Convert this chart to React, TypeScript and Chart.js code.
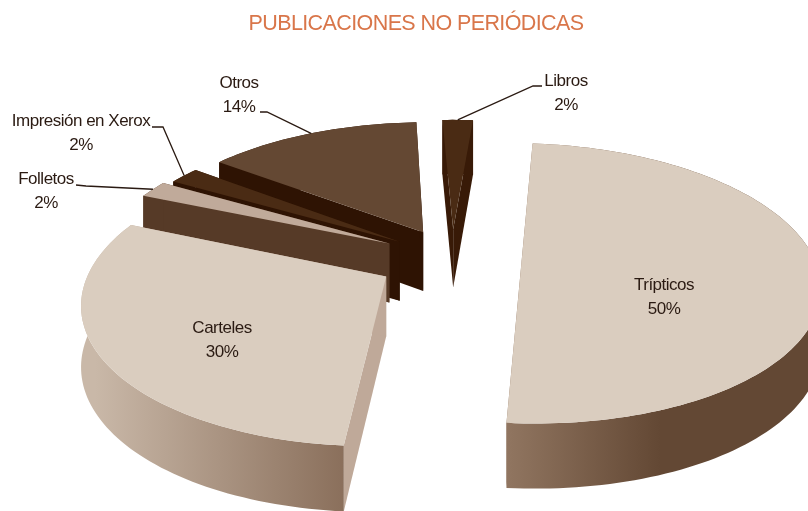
import React, { useEffect, useRef } from "react";
import { Chart, registerables } from "chart.js";

Chart.register(...registerables);

const categories = ["Libros", "Trípticos", "Carteles", "Folletos", "Impresión en Xerox", "Otros"];
const values = [2, 50, 30, 2, 2, 14];
const topColors = ["#4a2b14", "#dacdbf", "#dacdbf", "#c0aa9a", "#4a2b14", "#644833"];
const wallColors = ["#381a07", "#8f735e", "#bfa999", "#563a27", "#2e1303", "#2e1303"];
const rimStops = [
  ["#381a07", "#381a07"],
  ["#917661", "#634834"],
  ["#c9b8a8", "#8a6f5b"],
  ["#563a27", "#563a27"],
  ["#2e1303", "#2e1303"],
  ["#2e1303", "#2e1303"],
];
const rimRanges = [[450, 480], [505, 660], [95, 345], [140, 180], [170, 200], [225, 420]];
const labelPos = [[566, 81], [664, 285], [222, 328], [46, 179], [81, 121], [239, 83]];
const leaderStart = [[542, 86], null, null, [76, 185], [152, 127], [260, 112]];
const leaderBend = [[533, 86], null, null, [86, 186], [163, 127], [267, 112]];

const view = { cx: 452, B: 1800, hy: -577, A: 5140, Z0: 6.157, wall: 66 };

const pie3d = {
  id: "pie3d",
  beforeDraw(chart: any) {
    chart.ctx.letterSpacing = "-0.6px";
  },
  beforeDatasetsDraw(chart: any) {
    const { ctx } = chart;
    const arcs = chart.getDatasetMeta(0).data as any[];
    const project = (X: number, Z: number, down: boolean) => {
      const drop = down ? view.wall * Math.sqrt(5 / Z) : 0;
      return [view.cx + (view.B * X) / Z, view.hy + view.A / Z + drop];
    };
    const slices = arcs.map((arc, i) => {
      const a0 = arc.startAngle + Math.PI / 2;
      const a1 = arc.endAngle + Math.PI / 2;
      const mid = (a0 + a1) / 2;
      const e = arc.options.offset / arc.outerRadius;
      const ox = e * Math.sin(mid);
      const oz = view.Z0 + e * Math.cos(mid);
      return { i, a0, a1, mid, ox, oz };
    });
    const order = [...slices].sort((p, q) => Math.cos(q.mid) - Math.cos(p.mid));
    const poly = (pts: number[][], fill: any) => {
      ctx.beginPath();
      pts.forEach((p, k) => (k ? ctx.lineTo(p[0], p[1]) : ctx.moveTo(p[0], p[1])));
      ctx.closePath();
      ctx.fillStyle = fill;
      ctx.fill();
    };
    for (const s of order) {
      const rim: [number, number][] = [];
      const steps = Math.max(6, Math.ceil((s.a1 - s.a0) * 40));
      for (let k = 0; k <= steps; k++) {
        const a = s.a0 + ((s.a1 - s.a0) * k) / steps;
        rim.push([s.ox + Math.sin(a), s.oz + Math.cos(a)]);
      }
      const top = rim.map((p) => project(p[0], p[1], false));
      const bot = rim.map((p) => project(p[0], p[1], true));
      const apexT = project(s.ox, s.oz, false);
      const apexB = project(s.ox, s.oz, true);
      const grad = ctx.createLinearGradient(rimRanges[s.i][0], 0, rimRanges[s.i][1], 0);
      grad.addColorStop(0, rimStops[s.i][0]);
      grad.addColorStop(1, rimStops[s.i][1]);
      poly([apexT, top[0], bot[0], apexB], wallColors[s.i]);
      poly([apexT, top[top.length - 1], bot[bot.length - 1], apexB], wallColors[s.i]);
      poly([...top, ...[...bot].reverse()], grad);
      poly([apexT, ...top], topColors[s.i]);
    }
    ctx.font = "17px 'Liberation Sans'";
    ctx.letterSpacing = "-0.5px";
    ctx.textAlign = "center";
    ctx.textBaseline = "middle";
    const total = values.reduce((p, q) => p + q, 0);
    slices.forEach((s) => {
      const [lx, ly] = labelPos[s.i];
      ctx.fillStyle = "#2a1a12";
      ctx.fillText(categories[s.i], lx, ly);
      ctx.fillText(Math.round((values[s.i] / total) * 100) + "%", lx, ly + 24);
      const st = leaderStart[s.i];
      const bd = leaderBend[s.i];
      if (st && bd) {
        const end = project(s.ox + Math.sin(s.mid), s.oz + Math.cos(s.mid), false);
        ctx.beginPath();
        ctx.moveTo(st[0], st[1]);
        ctx.lineTo(bd[0], bd[1]);
        ctx.lineTo(end[0], end[1]);
        ctx.strokeStyle = "#2a1a12";
        ctx.lineWidth = 1.3;
        ctx.stroke();
      }
    });
    return false;
  },
};

export default function App() {
  const ref = useRef<HTMLCanvasElement>(null);
  useEffect(() => {
    const chart = new Chart(ref.current as HTMLCanvasElement, {
      type: "pie",
      data: {
        labels: categories,
        datasets: [{ data: values, backgroundColor: topColors, borderWidth: 0, offset: [45, 49, 53, 50, 45, 45] }],
      },
      options: {
        animation: false,
        responsive: false,
        rotation: -2.5,
        layout: { padding: { left: 24 } },
        plugins: {
          legend: { display: false },
          tooltip: { enabled: false },
          title: {
            display: true,
            text: "PUBLICACIONES NO PERIÓDICAS",
            color: "#d9764a",
            font: { family: "'Liberation Sans'", size: 21.5, weight: "normal" },
            padding: { top: 11, bottom: 10 },
          },
        },
      },
      plugins: [pie3d],
    } as any);
    return () => chart.destroy();
  }, []);
  return (
    <div style={{ position: "fixed", left: 0, top: 0, width: 808, height: 511, overflow: "hidden", background: "#fff" }}>
      <canvas ref={ref} width={808} height={511} style={{ display: "block" }} />
    </div>
  );
}
